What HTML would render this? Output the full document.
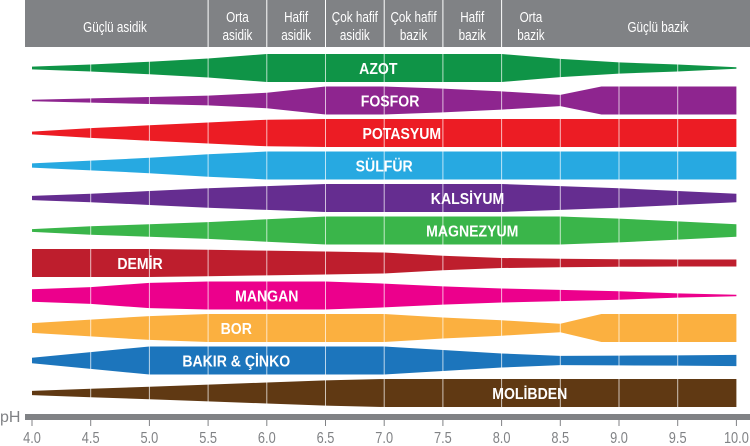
<!DOCTYPE html>
<html><head><meta charset="utf-8"><style>
body{margin:0;background:#fff;width:750px;height:446px;overflow:hidden}
svg{display:block;font-family:"Liberation Sans",sans-serif}
</style></head><body>
<svg id="c" width="750" height="446"></svg>
<script>
const names=["AZOT","FOSFOR","POTASYUM","SÜLFÜR","KALSİYUM","MAGNEZYUM","DEMİR","MANGAN","BOR","BAKIR & ÇİNKO","MOLİBDEN"];
const colors=["#0f9447","#8e258f","#ec1c24","#27a9e1","#652d90","#3ab54a","#be1e2d","#ec008c","#fbb040","#1c75bc","#603913"];
const labelPh=[6.95,7.05,7.15,7.0,7.71,7.75,4.92,6.0,5.74,5.74,8.24];
const P=[4,4.5,5,5.5,6,6.5,7,7.5,8,8.5,9,9.5,10];
const P2=[4,4.5,5,5.5,6,6.5,7,7.5,8,8.5,8.85,9,9.5,10];
const phGrid=[P,P2,P,P,P,P,P,P,P2,P,P];
const thick=[
[0.1,0.25,0.45,0.68,1,1,1,1,1,0.65,0.4,0.25,0.05],
[0.05,0.15,0.25,0.35,0.55,1,1,0.85,0.65,0.4,1,1,1,1],
[0.1,0.35,0.55,0.75,0.95,1,1,1,1,1,1,1,1],
[0.15,0.35,0.55,0.8,1,1,1,1,1,1,1,1,1],
[0.15,0.3,0.5,0.7,0.85,1,1,1,1,0.85,0.7,0.5,0.3],
[0.1,0.3,0.45,0.6,0.8,1,1,1,1,1,0.85,0.65,0.45],
[1,1,1,0.95,0.88,0.82,0.75,0.52,0.36,0.3,0.27,0.25,0.25],
[0.45,0.6,0.9,1,1,1,0.85,0.65,0.5,0.4,0.3,0.15,0.05],
[0.35,0.6,0.85,1,1,1,1,0.75,0.55,0.3,1,1,1,1],
[0.2,0.6,1,1,1,1,1,0.75,0.5,0.33,0.35,0.37,0.4],
[0.15,0.3,0.45,0.6,0.75,0.9,1,1,1,1,1,1,1]];
const ticks=["4.0","4.5","5.0","5.5","6.0","6.5","7.0","7.5","8.0","8.5","9.0","9.5","10.0"];
const headers=[["Güçlü asidik"],["Orta","asidik"],["Hafif","asidik"],["Çok hafif","asidik"],["Çok hafif","bazik"],["Hafif","bazik"],["Orta","bazik"],["Güçlü bazik"]];
const headerBounds=[4,5.5,6,6.5,7,7.5,8,8.5,10];

const NS="http://www.w3.org/2000/svg";
const svg=document.getElementById('c');
const X=p=>32+(p-4)*117.4;
const rowY=i=>68+i*32.5;
const MAXT=28;
function mk(t,a,parent){const e=document.createElementNS(NS,t);for(const k in a)e.setAttribute(k,a[k]);(parent||svg).appendChild(e);return e;}

const hdr=mk('rect',{x:25,y:0,width:725,height:47,fill:'#808285'});


headers.forEach((h,i)=>{
  let a=headerBounds[i],b=headerBounds[i+1];
  let cx=(X(a)+X(b))/2; if(i===0)cx=115;if(i===7)cx=658;
  if(i>0&&i<7){const l=mk('line',{x1:X(a),x2:X(a),y1:0,y2:47,stroke:'#fff','stroke-width':1});
    
    }
  const t=mk('text',{x:cx,'text-anchor':'middle',fill:'#fff','font-size':15});
  
  
  if(h.length===1){t.setAttribute('y',32);t.textContent=h[0];}
  else{h.forEach((s,j)=>{const ts=mk('tspan',{x:cx,y:j?40:22},t);ts.textContent=s;});}
  t.setAttribute('transform',`translate(${cx},0) scale(0.78,1) translate(${-cx},0)`);
});

names.forEach((n,i)=>{
  const ps=phGrid[i],th=thick[i],cy=rowY(i);
  let top=ps.map((p,k)=>X(p)+','+(cy-th[k]*MAXT/2));
  let bot=ps.map((p,k)=>X(p)+','+(cy+th[k]*MAXT/2)).reverse();
  const poly=mk('polygon',{points:top.concat(bot).join(' '),fill:colors[i]});
  
  
});
ticks.forEach((s,i)=>{
  const p=4+i*0.5;if(i===0||i===12)return;
  const l=mk('line',{x1:X(p),x2:X(p),y1:52,y2:409,stroke:'#fff','stroke-width':1,'stroke-opacity':0.7});
  
  
});
names.forEach((n,i)=>{
  const cx=X(labelPh[i]),cy=rowY(i);
  const t=mk('text',{x:cx,y:cy+6,'text-anchor':'middle',fill:'#fff','font-size':16,'font-weight':'bold'});
  
  
  t.setAttribute('transform',`translate(${cx},0) scale(0.88,1) translate(${-cx},0)`);
  t.textContent=n;
});
const ax=mk('rect',{x:25,y:414,width:725,height:6,fill:'#808285'});


const ph=mk('text',{x:0,y:422,fill:'#808285','font-size':16});


ph.textContent='pH';
ticks.forEach((s,i)=>{
  const p=4+i*0.5;
  const tk=mk('line',{x1:X(p),x2:X(p),y1:420,y2:426,stroke:'#808285','stroke-width':1});
  
  
  const t=mk('text',{x:X(p),y:443,'text-anchor':'middle',fill:'#808285','font-size':16});
  
  
  t.setAttribute('transform',`translate(${X(p)},0) scale(0.8,1) translate(${-X(p)},0)`);
  t.textContent=s;
});
</script>
</body></html>
